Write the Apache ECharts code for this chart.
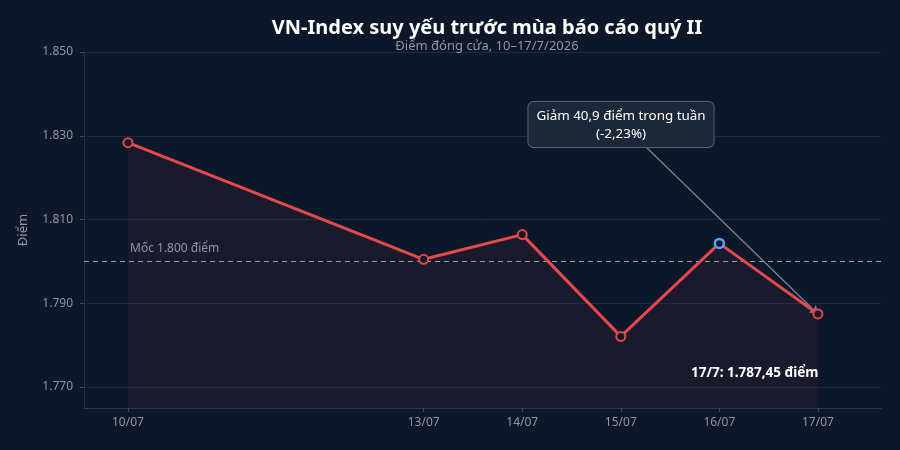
<!DOCTYPE html>
<html>
<head>
<meta charset="utf-8">
<script src="https://cdn.jsdelivr.net/npm/echarts@6/dist/echarts.min.js"></script>
<style>
  html, body { margin: 0; padding: 0; background: #0c1729; }
  #chart { width: 900px; height: 450px; }
</style>
</head>
<body>
<div id="chart"></div>
<script>
// closing values, VN-Index, 10–17/7/2026
const dates   = ['2026-07-10', '2026-07-13', '2026-07-14', '2026-07-15', '2026-07-16', '2026-07-17']
const xLabels = ['10/07', '13/07', '14/07', '15/07', '16/07', '17/07']
const closes  = [1828.35, 1800.5, 1806.4, 1782.1, 1804.3, 1787.45]
const yTicks  = [1770, 1790, 1810, 1830, 1850]
const baseline = 1800

const RED  = '#e5484d'
const BLUE = '#5ea1f2'
const MUTED = '#8d97a8'
const FONT = '"Noto Sans", "Open Sans", sans-serif'

// days since first session (keeps the weekend gap)
const DAY = 86400000
const t0 = Date.parse(dates[0] + 'T00:00:00Z')
const days = dates.map(d => Math.round((Date.parse(d + 'T00:00:00Z') - t0) / DAY))

const fmtNum = v => String(v).replace(/\B(?=(\d{3})+(?!\d))/g, '.')

const chart = echarts.init(document.getElementById('chart'), null, { renderer: 'canvas' })

chart.setOption({
  backgroundColor: '#0c1729',
  animation: false,
  textStyle: { fontFamily: FONT },
  title: {
    text: 'VN-Index suy yếu trước mùa báo cáo quý II',
    subtext: 'Điểm đóng cửa, 10–17/7/2026',
    left: 482, top: 13, textAlign: 'center',
    itemGap: 2,
    textStyle: { color: '#ffffff', fontSize: 20, fontWeight: 'bold', fontFamily: FONT },
    subtextStyle: { color: MUTED, fontSize: 13, fontFamily: FONT },
  },
  grid: { left: 84, right: 19, top: 52, bottom: 42 },
  xAxis: {
    type: 'value',
    min: -0.446,
    max: 7.64,
    axisLine: { show: true, lineStyle: { color: '#2b3a4f', width: 1 } },
    axisTick: { show: true, customValues: days, length: 4, lineStyle: { color: '#3a4860' } },
    axisLabel: {
      customValues: days,
      color: MUTED, fontSize: 12, margin: 9,
      formatter: v => xLabels[days.indexOf(Math.round(v))] || '',
    },
    splitLine: { show: false },
  },
  yAxis: {
    type: 'value',
    min: 1765, max: 1850,
    name: 'Điểm',
    nameLocation: 'middle',
    nameGap: 54,
    nameTextStyle: { color: MUTED, fontSize: 13 },
    axisLine: { show: true, onZero: false, lineStyle: { color: '#24324a' } },
    axisTick: { show: true, length: 4, customValues: yTicks, lineStyle: { color: '#3a4860' } },
    axisLabel: {
      customValues: yTicks,
      color: MUTED, fontSize: 12, margin: 11,
      formatter: v => fmtNum(v),
    },
    splitLine: { show: false },
  },
  series: [{
    type: 'line',
    data: days.map((d, i) => ({
      value: [d, closes[i]],
      itemStyle: i === 4 ? { color: '#0c1729', borderColor: BLUE, borderWidth: 2.5 } : undefined,
    })),
    symbol: 'circle',
    symbolSize: 9,
    lineStyle: { color: RED, width: 3 },
    itemStyle: { color: '#0c1729', borderColor: RED, borderWidth: 2 },
    areaStyle: { color: 'rgba(229,72,77,0.09)', origin: 'start' },
    z: 5,
    markLine: {
      silent: true,
      symbol: 'none',
      data: [
        // gridlines at the labelled ticks
        ...yTicks.map(v => ({
          yAxis: v,
          lineStyle: { color: '#1f2b3e', width: 1, type: 'solid' },
          label: { show: false },
        })),
        {
          yAxis: baseline,
          lineStyle: { color: '#9aa3b2', type: [5, 4], width: 1 },
          label: {
            show: true,
            position: 'insideStartTop',
            formatter: 'Mốc ' + fmtNum(baseline) + ' điểm',
            color: MUTED, fontSize: 12,
            padding: [0, 0, 0, 39],
            distance: 7,
          },
        },
        [
          { x: 645, y: 146, lineStyle: { color: '#7d8798', width: 1.2, type: 'solid' }, symbol: 'none' },
          { coord: [days[5], closes[5]], symbol: 'arrow', symbolSize: 8 },
        ],
      ],
      label: { show: false },
    },
  }],
  graphic: [
    {
      type: 'text',
      x: 621, y: 102,
      style: {
        text: 'Giảm 40,9 điểm trong tuần\n(-2,23%)',
        fill: '#ffffff', font: '13.4px ' + FONT,
        align: 'center', textAlign: 'center', lineHeight: 18,
        backgroundColor: '#1c2838', borderColor: '#56647a', borderWidth: 1,
        borderRadius: 5, padding: [5, 8, 4, 8],
      },
      z: 10,
    },
    {
      type: 'text',
      left: 691, top: 366,
      style: {
        text: '17/7: ' + fmtNum(1787) + ',45 điểm',
        fill: '#ffffff', font: 'bold 13.5px ' + FONT,
      },
      z: 10,
    },
  ],
})
</script>
</body>
</html>
